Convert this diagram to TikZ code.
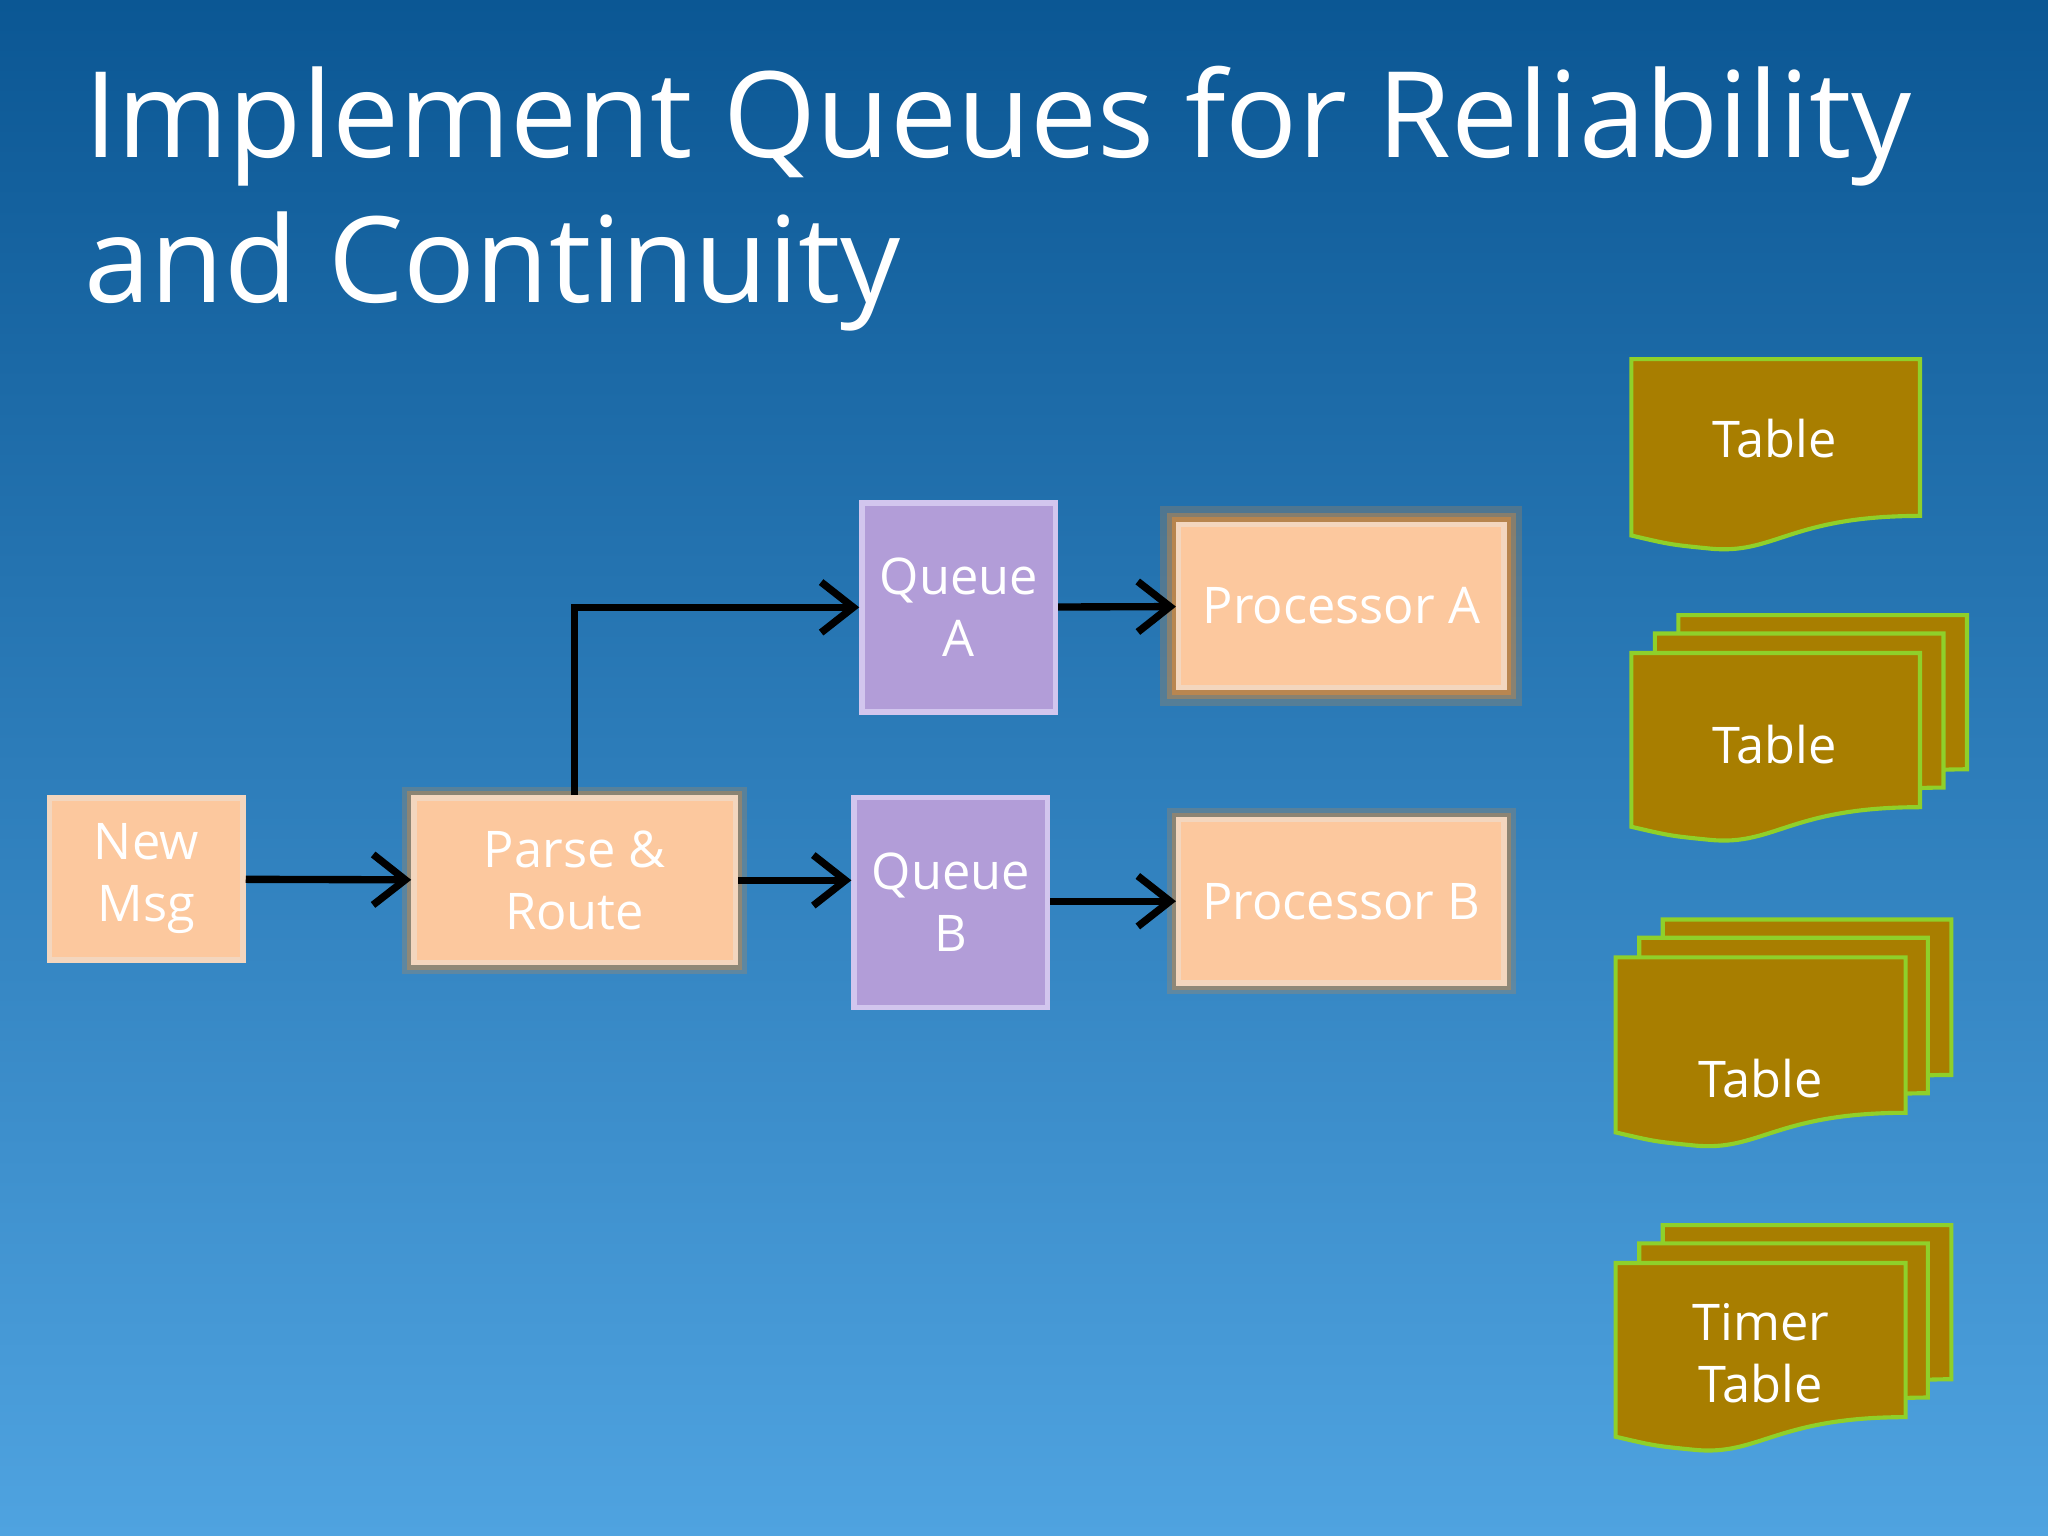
\documentclass[tikz,border=0pt]{standalone}
\usepackage{fontspec}
\setmainfont{Open Sans}
\usetikzlibrary{arrows.meta,positioning}
\definecolor{peach}{HTML}{FCC89E}
\definecolor{peachb}{HTML}{F3D6BE}
\definecolor{lav}{HTML}{B29DD8}
\definecolor{lavb}{HTML}{D2C6EE}
\definecolor{gold}{HTML}{A87E00}
\definecolor{goldb}{HTML}{8FD02A}
\definecolor{bgtop}{HTML}{0B5794}
\definecolor{bgbot}{HTML}{4FA3E0}
\definecolor{glow}{HTML}{D98A3A}
\tikzset{
  box/.style={draw=peachb,line width=1.2pt,fill=peach,text=white,font=\fontsize{11pt}{13.5pt}\selectfont,align=center,inner sep=0pt},
  queue/.style={draw=lavb,line width=1.2pt,fill=lav,text=white,font=\fontsize{11pt}{13.5pt}\selectfont,align=center,inner sep=0pt},
  glowbox/.style={box,preaction={draw=glow,line width=8pt,opacity=0.25},preaction={draw=glow,line width=5pt,opacity=0.4},preaction={draw=glow,line width=3pt,opacity=0.6}},
  softglow/.style={box,preaction={draw=glow,line width=5pt,opacity=0.25},preaction={draw=glow,line width=3pt,opacity=0.4}},
  arr/.style={line width=1.6pt,-{Straight Barb[length=7pt,width=11pt,line width=1.6pt]}},
  doc/.style={fill=gold,draw=goldb,line width=0.9pt},
  doctext/.style={text=white,font=\fontsize{11pt}{13.5pt}\selectfont,align=center}
}
\newcommand{\docshape}[4]{%
  \draw[doc] (#1,#2) -- (#3,#2) -- (#3,#4-25) .. controls (#3-100,#4-25) and (#1+110,#4+5) .. (#1+60,#4) .. controls (#1+30,#4-3) .. (#1,#4-10) -- cycle;}
\begin{document}
\begin{tikzpicture}[x=0.01cm,y=-0.01cm]
\shade[top color=bgtop,bottom color=bgbot] (0,0) rectangle (1568,1176);
\useasboundingbox (0,0) rectangle (1568,1176);
\node[anchor=north west,text=white,align=left,font=\fontsize{26pt}{31.5pt}\selectfont,inner sep=0pt] (title) at (64,50) {Implement Queues for Reliability\\and Continuity};

\node[box,minimum width=1.48cm,minimum height=1.24cm] (new) at (112,673) {New\\Msg};
\node[softglow,minimum width=2.46cm,minimum height=1.26cm] (parse) at (440,674) {Parse \&\\Route};
\node[queue,minimum width=1.48cm,minimum height=1.6cm] (qa) at (734,465) {Queue\\A};
\node[queue,minimum width=1.48cm,minimum height=1.61cm] (qb) at (728,691) {Queue\\B};
\node[glowbox,minimum width=2.49cm,minimum height=1.25cm] (pa) at (1027,464) {Processor A};
\node[softglow,minimum width=2.49cm,minimum height=1.25cm] (pb) at (1027,690) {Processor B};

\draw[arr] (new) -- (parse);
\draw[arr] (parse.north) |- (qa.west);
\draw[arr] (parse.east) -- (qb.west |- parse.east);
\draw[arr] (qa) -- (pa);
\draw[arr] (qb.east |- pb.west) -- (pb.west);

% tables
\docshape{1249}{275}{1470}{420}
\node[doctext] (t1) at (1359,336) {Table};
\docshape{1285}{471}{1506}{614}
\docshape{1267}{485}{1488}{628}
\docshape{1249}{500}{1470}{643}
\node[doctext] (t2) at (1359,570) {Table};
\docshape{1273}{704}{1494}{848}
\docshape{1255}{718}{1476}{862}
\docshape{1237}{733}{1459}{877}
\node[doctext] (t3) at (1348,826) {Table};
\docshape{1273}{938}{1494}{1081}
\docshape{1255}{952}{1476}{1095}
\docshape{1237}{967}{1459}{1110}
\node[doctext] (t4) at (1348,1036) {Timer\\Table};
\end{tikzpicture}
\end{document}
